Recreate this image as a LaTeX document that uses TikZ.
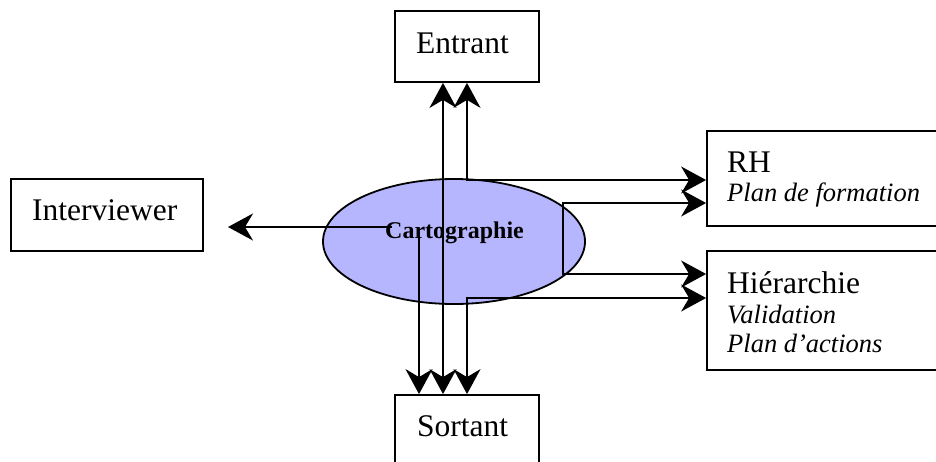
\documentclass[tikz,border=0pt]{standalone}
\usepackage{fontspec}
\setmainfont{Liberation Serif}
\usetikzlibrary{arrows.meta,shapes.geometric}
\definecolor{carto}{RGB}{182,182,255}
\begin{document}
\begin{tikzpicture}[x=1pt,y=-1pt,
  >={Stealth[length=25pt,width=27pt,inset=8pt]},
  box/.style={draw,line width=1.8pt,inner sep=0pt,rectangle},
  conn/.style={line width=1.8pt},
  bigtxt/.style={anchor=base west,inner sep=0pt,font=\fontsize{31.5}{36}\selectfont},
  ittxt/.style={anchor=base west,inner sep=0pt,font=\fontsize{26.5}{30}\selectfont\itshape}]
\useasboundingbox (0,0) rectangle (936,461);
\clip (0,0) rectangle (936,461);
% shapes
\node[draw,ellipse,fill=carto,line width=1.8pt,minimum width=262pt,minimum height=125pt,inner sep=0pt] (carto) at (454,241.5) {};
\node[box,minimum width=144pt,minimum height=71pt] (entrant) at (467,46.5) {};
\node[box,minimum width=144pt,minimum height=71pt] (sortant) at (467,430.5) {};
\node[box,minimum width=192pt,minimum height=72pt] (interv) at (107,215) {};
\node[box,minimum width=240pt,minimum height=95pt] (rh) at (827,178.5) {};
\node[box,minimum width=240pt,minimum height=119pt] (hier) at (827,310.5) {};
% junctions
\coordinate (j1) at (467,180);
\coordinate (j2) at (563,203);
\coordinate (j3) at (563,274);
\coordinate (j4) at (467,298);
\coordinate (j5) at (419,237);
\coordinate (j6) at (392,227);
\coordinate (ivtip) at (228,227);
% connectors
\draw[conn,<->] (entrant.south) -- (j1) -- (j1 -| rh.west);
\draw[conn,<->] (j2 -| rh.west) -- (j2) -- (j3) -- (j3 -| hier.west);
\draw[conn,<->] (sortant.north) -- (j4) -- (j4 -| hier.west);
\draw[conn,<->] ([xshift=-24pt]entrant.south) -- ([xshift=-24pt]sortant.north);
\draw[conn,->] (j5) -- ([xshift=-48pt]sortant.north);
\draw[conn,->] (j6) -- (ivtip);
% texts
\node[bigtxt] (tentrant) at (416,53) {Entrant};
\node[bigtxt] (tsortant) at (417,436) {Sortant};
\node[bigtxt] (tinterv) at (32,220) {Interviewer};
\node[bigtxt] (trh) at (727,172) {RH};
\node[ittxt] (tformation) at (727,201) {Plan de formation};
\node[bigtxt] (thier) at (727,293) {Hiérarchie};
\node[ittxt] (tvalid) at (727,323) {Validation};
\node[ittxt] (tactions) at (727,352) {Plan d’actions};
\node[anchor=base,inner sep=0pt,font=\fontsize{24}{28}\selectfont\bfseries] (tcarto) at (454.5,238) {Cartographie};
\end{tikzpicture}
\end{document}
